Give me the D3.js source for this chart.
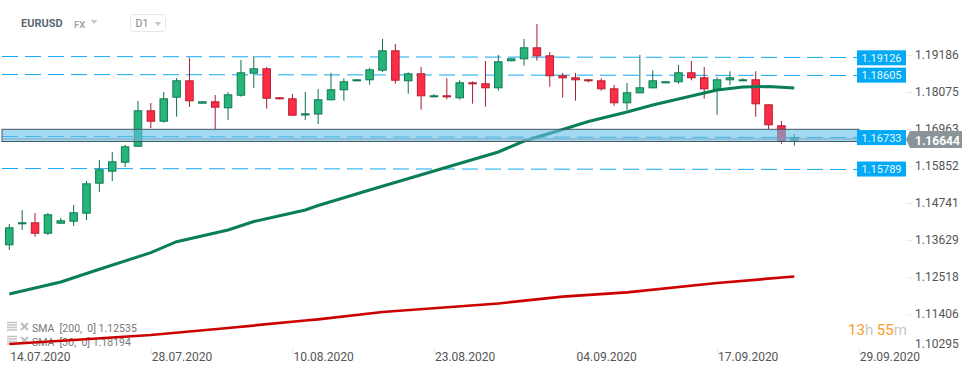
<!DOCTYPE html>
<html>
<head>
<meta charset="utf-8">
<script src="https://cdn.jsdelivr.net/npm/d3@7"></script>
<style>
  html, body { margin: 0; padding: 0; background: #fff; }
  svg { display: block; font-family: Roboto, sans-serif; }
</style>
</head>
<body>
<div id="chart"></div>
<script>
const opens = [1.13477,1.14107,1.14167,1.13825,1.14125,1.14185,1.14425,1.15325,1.15685,1.15955,1.16435,1.17527,1.17185,1.17905,1.18427,1.17725,1.17797,1.17587,1.17965,1.18625,1.18787,1.17917,1.17887,1.17371,1.17401,1.17827,1.18127,1.18397,1.18427,1.18715,1.19327,1.18397,1.18637,1.17917,1.17977,1.17887,1.18367,1.18337,1.18187,1.18997,1.19057,1.19417,1.19177,1.18577,1.18517,1.18457,1.18427,1.18187,1.17737,1.18037,1.18187,1.18337,1.18367,1.18667,1.18517,1.18127,1.18427,1.18397,1.18457,1.17707,1.17077,1.16615];
const highs = [1.14116,1.14536,1.14446,1.14446,1.14296,1.14686,1.15406,1.16036,1.16276,1.16486,1.17806,1.17746,1.18076,1.18496,1.19105,1.17797,1.17986,1.18076,1.19036,1.19156,1.18826,1.17917,1.18016,1.18076,1.18166,1.18646,1.18487,1.18457,1.18796,1.19666,1.19516,1.18667,1.18826,1.18016,1.18487,1.18427,1.18397,1.19006,1.19186,1.19087,1.19666,1.20116,1.19276,1.18646,1.18646,1.18457,1.18487,1.18286,1.18346,1.19186,1.18727,1.18397,1.18886,1.19006,1.18826,1.18517,1.18697,1.18487,1.18697,1.17707,1.17206,1.16816];
const lows = [1.13336,1.13936,1.13735,1.13786,1.14125,1.14056,1.14236,1.15076,1.15406,1.15826,1.16426,1.16996,1.17155,1.17335,1.17626,1.17725,1.16966,1.17236,1.17935,1.18196,1.17575,1.17857,1.17365,1.17236,1.17116,1.17827,1.17815,1.18397,1.18295,1.18676,1.18325,1.18025,1.17545,1.17917,1.17857,1.17845,1.17725,1.17635,1.18115,1.18997,1.18865,1.19015,1.18235,1.17905,1.17815,1.18367,1.18115,1.17665,1.17536,1.18037,1.18187,1.18337,1.18325,1.18427,1.17875,1.17395,1.18277,1.18397,1.17335,1.16966,1.16525,1.16465];
const closes = [1.14017,1.14167,1.13825,1.14407,1.14227,1.14467,1.15337,1.15757,1.15997,1.16447,1.17527,1.17185,1.17887,1.18427,1.17797,1.17797,1.17605,1.18007,1.18667,1.18787,1.17875,1.17857,1.17365,1.17437,1.17857,1.18157,1.18397,1.18457,1.18757,1.19327,1.18415,1.18637,1.17947,1.17977,1.17917,1.18367,1.18307,1.18187,1.18997,1.19087,1.19417,1.19147,1.18547,1.18487,1.18427,1.18397,1.18157,1.17737,1.18067,1.18217,1.18427,1.18397,1.18667,1.18487,1.18157,1.18457,1.18517,1.18457,1.17707,1.17077,1.16597,1.16717];

const sma30Index = [0,4,7,11,13,17,19,23,24,28,33,38,40,43,45,48,50,52,55,57,59,61];
const sma30Values = [1.12016,1.12376,1.12757,1.13255,1.13585,1.13936,1.14191,1.14536,1.14671,1.15136,1.15706,1.16276,1.16606,1.16951,1.17191,1.17476,1.17686,1.17866,1.18136,1.18226,1.18241,1.18196];
const sma200Index = [0,5,11,17,23,24,29,38,43,48,55,61];
const sma200Values = [1.10516,1.10636,1.10786,1.10996,1.11221,1.11257,1.11476,1.11731,1.11935,1.12067,1.12346,1.12541];

const levels = [1.19126, 1.18605, 1.16733, 1.15789];
const band = [1.16957, 1.16606];
const lastPrice = 1.16644;
const priceTicks = [1.19186, 1.18075, 1.16963, 1.15852, 1.14741, 1.13629, 1.12518, 1.11406, 1.10295];
const dateTickIndex = [0, 11, 22, 33, 44, 55, 66];
const dateTickLabels = ['14.07.2020', '28.07.2020', '10.08.2020', '23.08.2020', '04.09.2020', '17.09.2020', '29.09.2020'];
const legendLabels = ['SMA  [200,  0] 1.12535', 'SMA  [30,  0] 1.18194'];

const width = 974;
const height = 375;
const chartLeft = 2;
const chartRight = 859;

const x = d3.scaleLinear().domain([0, 61]).range([9.3, 794.3]);
const y = d3.scaleLinear().domain([1.19186, 1.11406]).range([55, 314.33]);

const svg = d3.select('#chart')
  .append('svg')
  .attr('width', width)
  .attr('height', height);

// header
svg.append('text').attr('x', 21).attr('y', 27).attr('font-size', 11).attr('font-weight', 700)
  .attr('fill', '#5c6870').text('EURUSD');
svg.append('text').attr('x', 74).attr('y', 28).attr('font-size', 9.5).attr('font-weight', 700)
  .attr('fill', '#9fabb3').text('FX');
svg.append('path').attr('d', 'M90.5,20H97.5L94,24Z').attr('fill', '#c4c8cb');
svg.append('rect').attr('x', 130.5).attr('y', 14.5).attr('width', 35).attr('height', 17).attr('rx', 3)
  .attr('fill', '#fff').attr('stroke', '#e6e6e6');
svg.append('text').attr('x', 135.5).attr('y', 27).attr('font-size', 10.5).attr('fill', '#888').text('D1');
svg.append('path').attr('d', 'M154.5,22H161.5L158,26Z').attr('fill', '#c4c8cb');

// legend sits under the series
const legend = svg.selectAll('.legend')
  .data(legendLabels)
  .enter()
  .append('g')
  .attr('class', 'legend')
  .attr('transform', (d, i) => `translate(7,${322 + i * 14})`);
legend.append('path')
  .attr('d', 'M0,0.5H10M0,3H10M0,5.5H10M0,8H10')
  .attr('stroke', '#c4c4c4').attr('stroke-width', 1.5);
legend.append('path')
  .attr('d', 'M14,1L21,8M21,1L14,8')
  .attr('stroke', '#c0c0c0').attr('stroke-width', 2.4);
legend.append('text')
  .attr('x', 25).attr('y', 10)
  .attr('font-size', 10.5).attr('fill', '#777')
  .style('white-space', 'pre')
  .text(d => d);

// axes
const xAxis = d3.axisBottom(x)
  .tickValues(dateTickIndex)
  .tickSize(5)
  .tickFormat((d, i) => dateTickLabels[i]);
const xAxisG = svg.append('g')
  .attr('transform', 'translate(0,349)')
  .call(xAxis);
xAxisG.select('.domain').remove();
xAxisG.selectAll('line').attr('stroke', '#e8e8e8');
xAxisG.selectAll('text')
  .attr('text-anchor', 'start')
  .attr('x', 0.5)
  .attr('y', 3)
  .attr('font-family', 'Roboto, sans-serif')
  .attr('font-size', 12)
  .attr('fill', '#555');

const yAxis = d3.axisRight(y)
  .tickValues(priceTicks)
  .tickSize(6)
  .tickPadding(3)
  .tickFormat(d3.format('.5f'));
const yAxisG = svg.append('g')
  .attr('transform', 'translate(906,0)')
  .call(yAxis);
yAxisG.select('.domain').remove();
yAxisG.selectAll('line').attr('stroke', '#e8e8e8');
yAxisG.selectAll('text')
  .attr('font-family', 'Roboto, sans-serif')
  .attr('font-size', 12)
  .attr('fill', '#555')
  .attr('dy', '0.27em');
// lowest label is pushed up by the time scale
yAxisG.selectAll('.tick').filter(d => d === 1.10295).select('line').remove();
yAxisG.selectAll('.tick').filter(d => d === 1.10295).select('text').attr('y', -7);

// level lines, drawn by hand on the platform so they drift one pixel
svg.selectAll('.level')
  .data(levels)
  .enter()
  .append('line')
  .attr('class', 'level')
  .attr('x1', chartLeft)
  .attr('x2', chartRight)
  .attr('y1', d => Math.floor(y(d)) + 0.5)
  .attr('y2', d => Math.floor(y(d)) + 1.5)
  .attr('stroke', '#14a9f5')
  .attr('stroke-dasharray', '16 7');

// candles
const candles = closes.map((c, i) => ({
  i,
  open: opens[i],
  high: highs[i],
  low: lows[i],
  close: c,
  up: c >= opens[i]
}));

svg.selectAll('.wick')
  .data(candles)
  .enter()
  .append('line')
  .attr('class', 'wick')
  .attr('x1', d => x(d.i))
  .attr('x2', d => x(d.i))
  .attr('y1', d => y(d.high))
  .attr('y2', d => y(d.low))
  .attr('stroke', d => (d.up ? '#0f7050' : '#a51d2f'));

svg.selectAll('.rectangle')
  .data(candles)
  .enter()
  .append('rect')
  .attr('class', 'rectangle')
  .attr('x', d => x(d.i) - 3.75)
  .attr('y', d => y(Math.max(d.open, d.close)) + 0.5)
  .attr('width', 7.5)
  .attr('height', d => Math.max(1, Math.abs(y(d.open) - y(d.close)) - 1))
  .attr('fill', d => (d.up ? '#26b478' : '#ff2c47'))
  .attr('stroke', d => (d.up ? '#107a58' : '#b5202f'));

// moving averages
const smaLine = d3.line()
  .x(d => x(d[0]))
  .y(d => y(d[1]));

svg.append('path')
  .attr('d', smaLine(sma30Index.map((d, i) => [d, sma30Values[i]])))
  .attr('fill', 'none')
  .attr('stroke', '#0a7f57')
  .attr('stroke-width', 3);

svg.append('path')
  .attr('d', smaLine(sma200Index.map((d, i) => [d, sma200Values[i]])))
  .attr('fill', 'none')
  .attr('stroke', '#cc0000')
  .attr('stroke-width', 2.7);

// zone over the candles
svg.append('rect')
  .attr('x', chartLeft)
  .attr('y', y(band[0]))
  .attr('width', chartRight - chartLeft)
  .attr('height', y(band[1]) - y(band[0]) + 0.5)
  .attr('fill', 'rgba(100,190,232,0.6)')
  .attr('stroke', '#44585f')
  .attr('stroke-width', 1);

svg.append('line')
  .attr('x1', chartLeft)
  .attr('x2', chartRight)
  .attr('y1', 139)
  .attr('y2', 139)
  .attr('stroke', '#7fa3b8');

// level tags
const tags = svg.selectAll('.tag')
  .data(levels)
  .enter()
  .append('g')
  .attr('class', 'tag')
  .attr('transform', d => `translate(0,${y(d) + 0.8})`);
tags.append('rect')
  .attr('x', 857)
  .attr('y', -7.5)
  .attr('width', 49)
  .attr('height', 15)
  .attr('fill', '#03a9f4');
tags.append('text')
  .attr('x', 881.5)
  .attr('y', 4)
  .attr('text-anchor', 'middle')
  .attr('font-size', 11)
  .attr('fill', '#e8f7ff')
  .text(d => d.toFixed(5));

// last price tag
svg.append('path')
  .attr('d', 'M906,139.5L910,131H962V148H910Z')
  .attr('fill', '#8a9499');
svg.append('text')
  .attr('x', 915)
  .attr('y', 144.5)
  .attr('font-size', 12)
  .attr('font-weight', 700)
  .attr('fill', '#fff')
  .text(lastPrice.toFixed(5));

// countdown
const countdown = svg.append('text')
  .attr('x', 848)
  .attr('y', 335)
  .attr('font-size', 15);
[['13', '#ff9a1f'], ['h ', '#c8c8c8'], ['55', '#ff9a1f'], ['m', '#c8c8c8']].forEach(part => {
  countdown.append('tspan').attr('fill', part[1]).text(part[0]);
});
</script>
</body>
</html>
